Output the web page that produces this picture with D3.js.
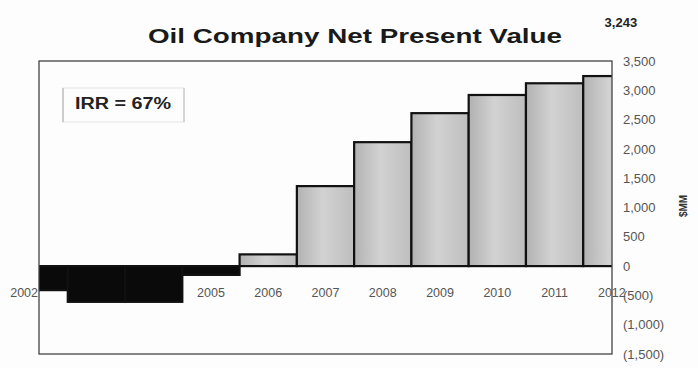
<!DOCTYPE html>
<html>
<head>
<meta charset="utf-8">
<script src="https://cdn.jsdelivr.net/npm/d3@7"></script>
<style>
  html, body { margin: 0; padding: 0; background: #fdfdfd; }
  svg { display: block; font-family: "Liberation Sans", Arial, sans-serif; }
</style>
</head>
<body>
<svg id="chart" width="698" height="368"></svg>
<script>
// Net present value by year ($MM)
const years = ["2002", "2003", "2004", "2005", "2006", "2007", "2008", "2009", "2010", "2011", "2012"];
const npv = [-410, -610, -610, -150, 200, 1365, 2115, 2610, 2920, 3120, 3243];
const yTicks = [-1500, -1000, -500, 0, 500, 1000, 1500, 2000, 2500, 3000, 3500];
const chartTitle = "Oil Company Net Present Value";
const irrLabel = "IRR = 67%";
const axisTitle = "$MM";

const svg = d3.select("#chart");

// plot frame
const frame = { left: 39, right: 612, top: 61, bottom: 354 };

const x = d3.scaleBand().domain(years).range([10.5, 640.5]).padding(0);
const y = d3.scaleLinear().domain([-1500, 3500]).range([frame.bottom, frame.top]);

const fmt = d3.format(",");
const tickFmt = v => v < 0 ? "(" + fmt(-v) + ")" : fmt(v);

const defs = svg.append("defs");
defs.append("clipPath").attr("id", "plotClip")
  .append("rect")
  .attr("x", frame.left).attr("y", frame.top)
  .attr("width", frame.right - frame.left).attr("height", frame.bottom - frame.top);

const grad = defs.append("linearGradient").attr("id", "barFill")
  .attr("x1", "0%").attr("x2", "100%").attr("y1", "0%").attr("y2", "0%");
grad.append("stop").attr("offset", "0%").attr("stop-color", "#b2b2b2");
grad.append("stop").attr("offset", "45%").attr("stop-color", "#d2d2d2");
grad.append("stop").attr("offset", "100%").attr("stop-color", "#bebebe");

// title
svg.append("text")
  .attr("x", 355).attr("y", 43)
  .attr("text-anchor", "middle")
  .attr("font-size", 21).attr("font-weight", "bold").attr("fill", "#1a1a1a")
  .attr("textLength", 414).attr("lengthAdjust", "spacingAndGlyphs")
  .text(chartTitle);

// category labels sit below the zero line, under the bars
const xAxis = svg.append("g")
  .attr("transform", `translate(0,${y(0)})`)
  .call(d3.axisBottom(x).tickSize(0).tickPadding(22));
xAxis.select(".domain").remove();
xAxis.selectAll("text")
  .attr("font-size", 12.5).attr("fill", "#555")
  .attr("font-family", "Liberation Sans, Arial, sans-serif");
// the first label runs off the frame edge, so it is pulled left of it
xAxis.selectAll(".tick").filter(d => d === years[0]).select("text")
  .attr("text-anchor", "end")
  .attr("x", frame.left - 1 - (x(years[0]) + x.bandwidth() / 2));

// bars
const plot = svg.append("g").attr("clip-path", "url(#plotClip)");

plot.append("line")
  .attr("x1", frame.left).attr("x2", frame.right)
  .attr("y1", y(0)).attr("y2", y(0))
  .attr("stroke", "#111").attr("stroke-width", 1.5);

plot.selectAll("rect.bar")
  .data(years.map((yr, i) => ({ yr, v: npv[i] })))
  .join("rect")
  .attr("class", "bar")
  .attr("x", d => x(d.yr))
  .attr("width", x.bandwidth())
  .attr("y", d => y(Math.max(0, d.v)))
  .attr("height", d => Math.abs(y(d.v) - y(0)))
  .attr("fill", d => d.v < 0 ? "#0a0a0a" : "url(#barFill)")
  .attr("stroke", "#111")
  .attr("stroke-width", 2.2);

// frame
svg.append("rect")
  .attr("x", frame.left).attr("y", frame.top)
  .attr("width", frame.right - frame.left).attr("height", frame.bottom - frame.top)
  .attr("fill", "none").attr("stroke", "#444").attr("stroke-width", 1.3);

// value axis on the right
const yAxis = svg.append("g")
  .attr("transform", `translate(${frame.right},0)`)
  .call(d3.axisRight(y).tickValues(yTicks).tickFormat(tickFmt).tickSize(0).tickPadding(11));
yAxis.select(".domain").remove();
yAxis.selectAll("text")
  .attr("font-size", 13).attr("fill", "#555")
  .attr("font-family", "Liberation Sans, Arial, sans-serif");

svg.append("text")
  .attr("transform", "translate(687,206) rotate(-90)")
  .attr("text-anchor", "middle")
  .attr("font-size", 10).attr("font-weight", "bold").attr("fill", "#333")
  .text(axisTitle);

// value of the last bar
const last = npv.length - 1;
svg.append("text")
  .attr("x", x(years[last]) + x.bandwidth() / 2 + 9).attr("y", 27)
  .attr("text-anchor", "middle")
  .attr("font-size", 13).attr("font-weight", "bold").attr("fill", "#222")
  .text(fmt(npv[last]));

// IRR callout
const irr = svg.append("g");
irr.append("rect")
  .attr("x", 63).attr("y", 88).attr("width", 121).attr("height", 34)
  .attr("fill", "none").attr("stroke", "#e4e4e4").attr("stroke-width", 1);
irr.append("line").attr("x1", 63).attr("x2", 63).attr("y1", 88).attr("y2", 122)
  .attr("stroke", "#aaa").attr("stroke-width", 1);
irr.append("line").attr("x1", 184).attr("x2", 184).attr("y1", 88).attr("y2", 122)
  .attr("stroke", "#bbb").attr("stroke-width", 1);
irr.append("text")
  .attr("x", 75).attr("y", 109)
  .attr("font-size", 16).attr("font-weight", "bold").attr("fill", "#222")
  .attr("textLength", 96).attr("lengthAdjust", "spacingAndGlyphs")
  .text(irrLabel);
</script>
</body>
</html>
